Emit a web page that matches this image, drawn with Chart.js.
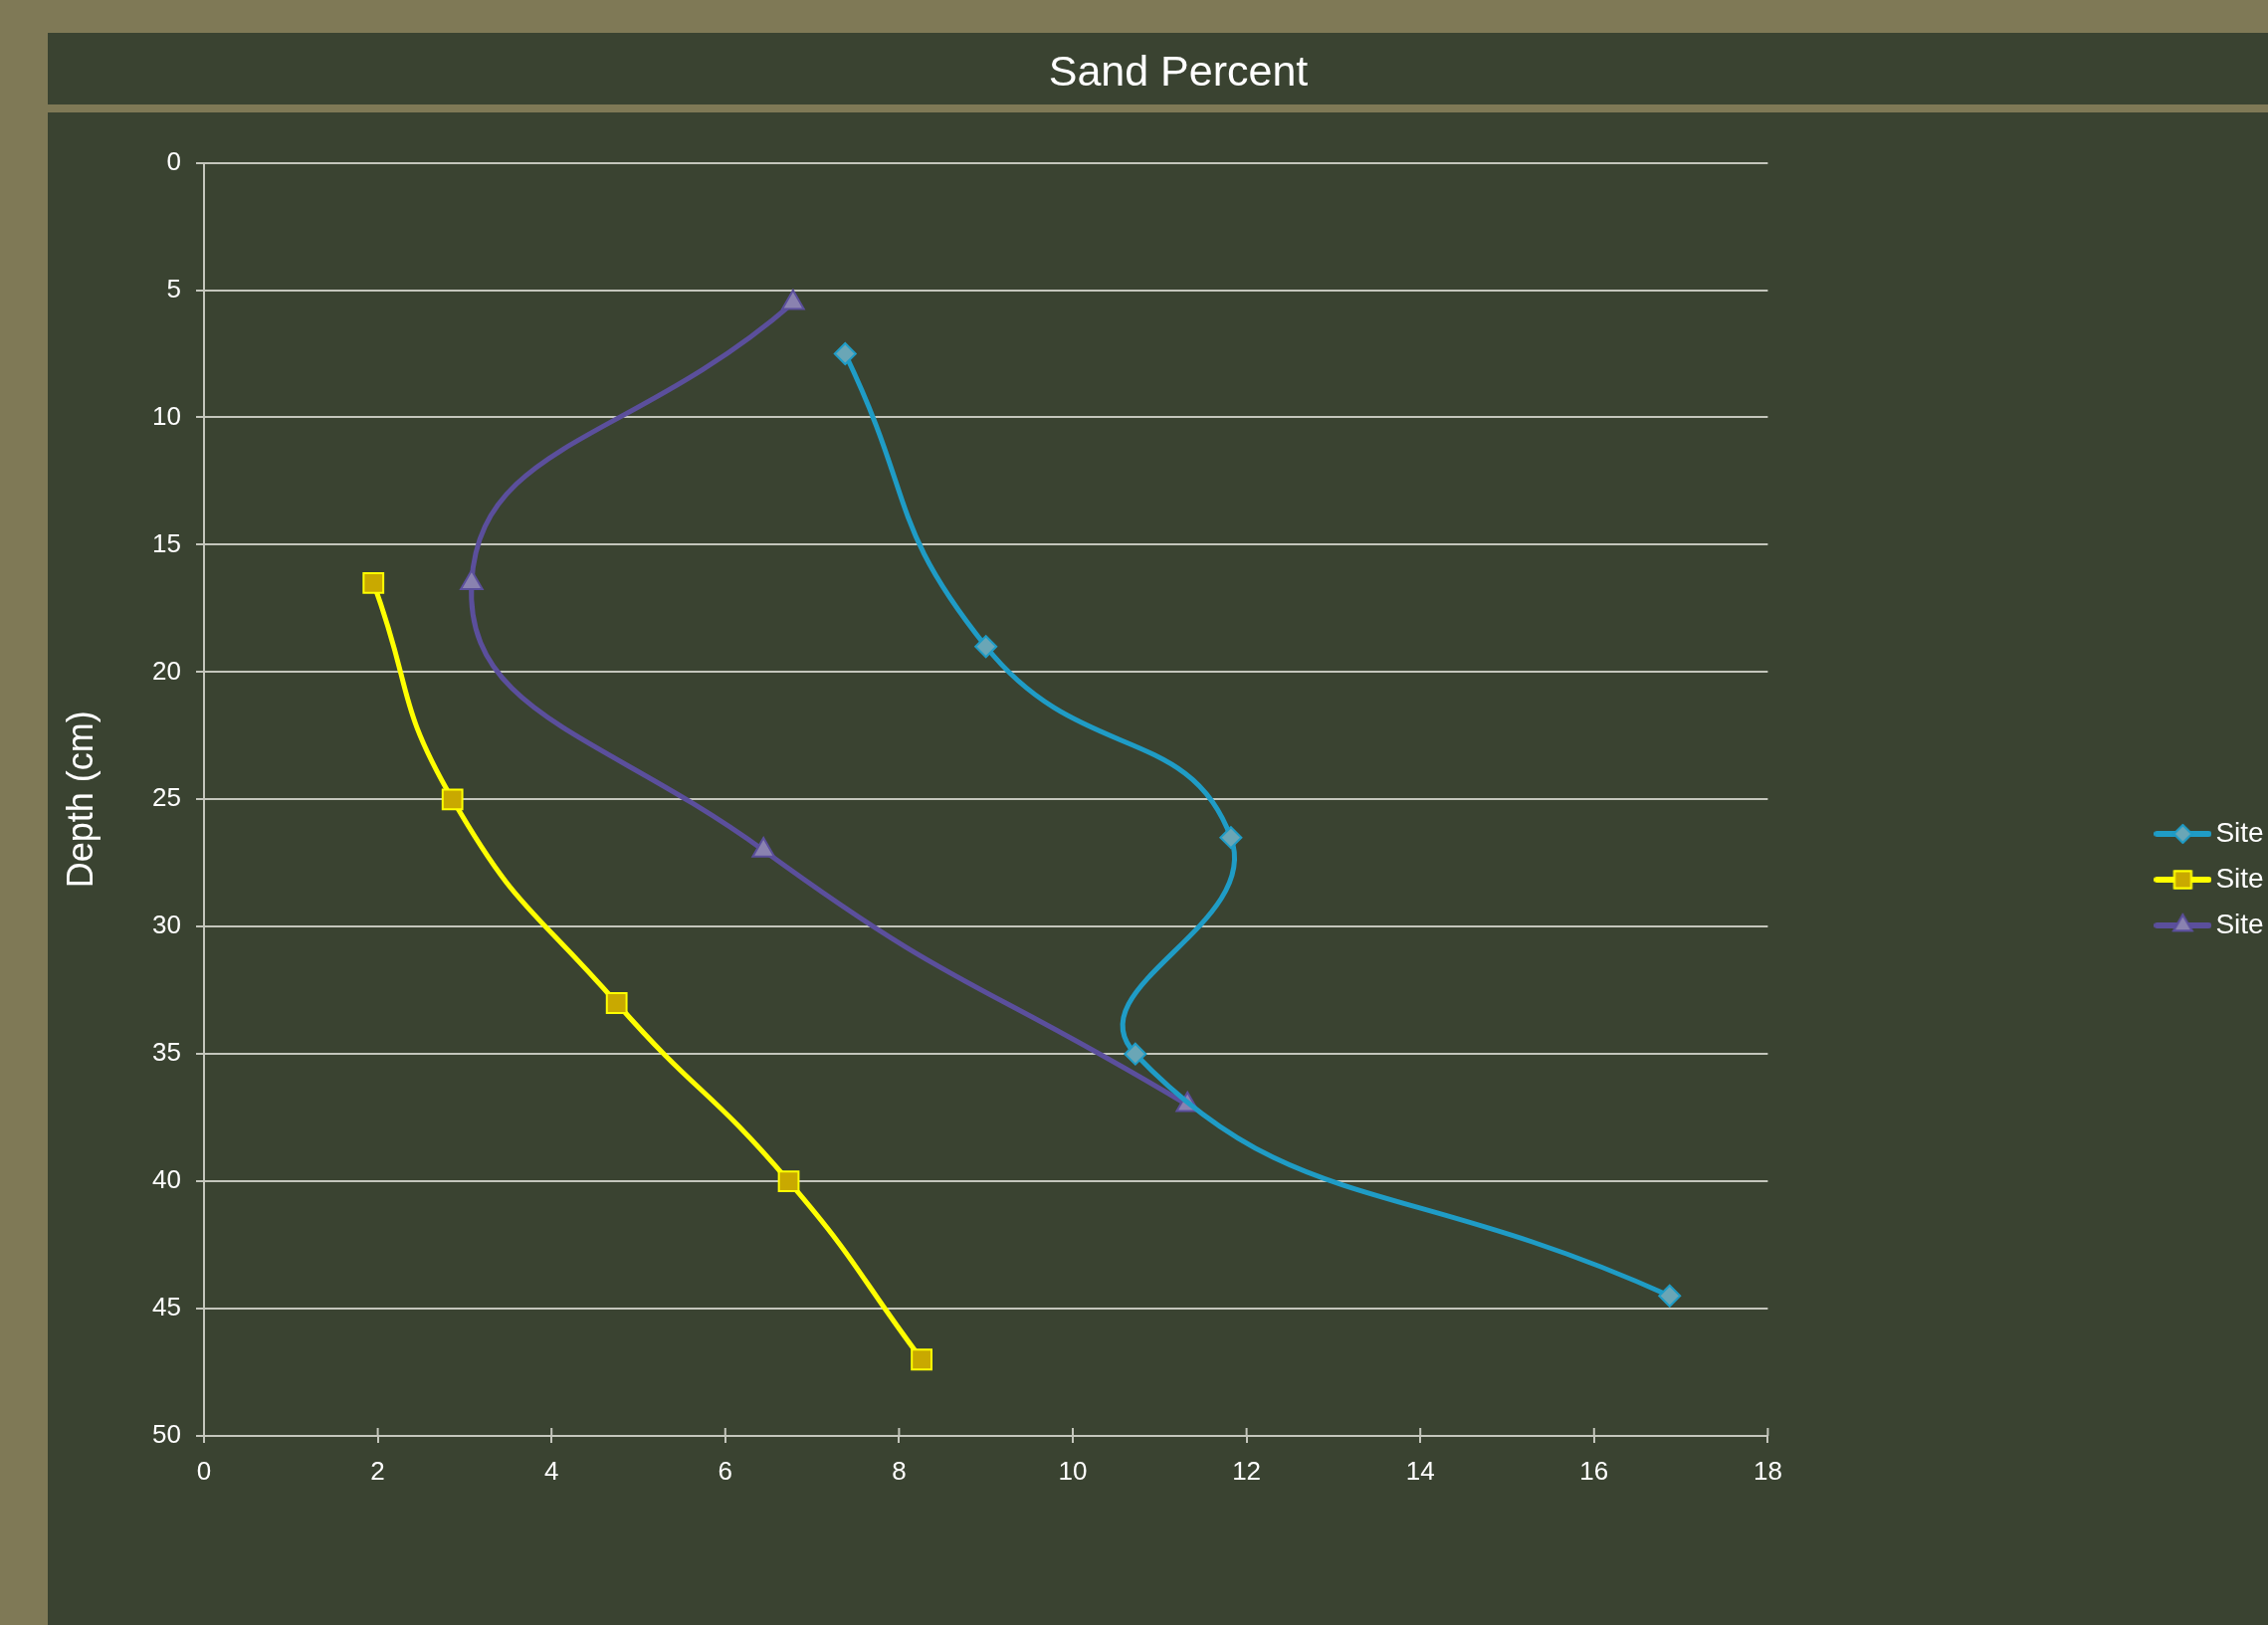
<!DOCTYPE html>
<html>
<head>
<meta charset="utf-8">
<script src="https://cdn.jsdelivr.net/npm/chart.js@4.4.0/dist/chart.umd.min.js"></script>
<style>
  html, body { margin: 0; padding: 0; width: 2279px; height: 1633px; overflow: hidden; background: #7f7956; }
  #wrap { position: absolute; left: 48px; top: 33px; width: 2272px; height: 1702px; }
</style>
</head>
<body>
<div id="wrap"><canvas id="sandChart"></canvas></div>
<script>
// values
var siteNames = ['Site 1', 'Site 2', 'Site 3'];
var site1Sand  = [7.38, 9.0, 11.82, 10.72, 16.87];
var site1Depth = [7.5, 19, 26.5, 35, 44.5];
var site2Sand  = [1.95, 2.86, 4.75, 6.73, 8.26];
var site2Depth = [16.5, 25, 33, 40, 47];
var site3Sand  = [6.78, 3.08, 6.44, 11.32];
var site3Depth = [5.5, 16.5, 27, 37];
var depthTicks = [0, 5, 10, 15, 20, 25, 30, 35, 40, 45, 50];
var sandTicks = [0, 2, 4, 6, 8, 10, 12, 14, 16, 18];

var panel = '#3a4331';
var olive = '#7f7956';
var gridCol = '#c4c6bc';

function pts(xs, ys) {
  return xs.map(function(x, i) { return {x: x, y: ys[i]}; });
}

var styles = [
  {line: '#1f9cc6', fill: '#6aa6b6', shape: 'rectRot', r: 10.5},
  {line: '#ffff00', fill: '#c9a900', shape: 'rect', r: 14},
  {line: '#5b4f9c', fill: '#8a82b0', shape: 'triangle', r: 12.5}
];

// legend swatch: a short line with the marker on it
function swatch(s) {
  var c = document.createElement('canvas');
  c.width = 58; c.height = 26;
  var g = c.getContext('2d');
  g.strokeStyle = s.line; g.lineWidth = 6; g.lineCap = 'round';
  g.beginPath(); g.moveTo(3, 13); g.lineTo(55, 13); g.stroke();
  g.fillStyle = s.fill; g.strokeStyle = s.line; g.lineWidth = 2;
  Chart.helpers.drawPoint(g, {pointStyle: s.shape, radius: s.r * 0.85, rotation: 0, borderWidth: 2}, 29, 13);
  g.fill(); g.stroke();
  return c;
}

var series = [pts(site1Sand, site1Depth), pts(site2Sand, site2Depth), pts(site3Sand, site3Depth)];

var datasets = series.map(function(d, i) {
  var s = styles[i];
  return {
    label: siteNames[i],
    data: d,
    showLine: true,
    tension: 0.5,
    borderColor: s.line,
    borderWidth: 5,
    backgroundColor: s.fill,
    pointStyle: s.shape,
    pointRadius: s.r,
    pointBorderWidth: 2,
    pointBorderColor: s.line,
    pointBackgroundColor: s.fill
  };
});

var bands = {
  id: 'bands',
  beforeDraw: function(chart) {
    var g = chart.ctx;
    g.save();
    g.fillStyle = panel;
    g.fillRect(0, 0, chart.width, chart.height);
    g.fillStyle = olive;
    g.fillRect(0, 72, chart.width, 8);
    g.restore();
  },
  // x tick marks cross the axis line
  afterDraw: function(chart) {
    var xs = chart.scales.x, g = chart.ctx, yb = chart.chartArea.bottom;
    g.save();
    g.strokeStyle = gridCol; g.lineWidth = 2;
    xs.ticks.forEach(function(t) {
      var px = xs.getPixelForValue(t.value);
      g.beginPath(); g.moveTo(px, yb - 8); g.lineTo(px, yb); g.stroke();
    });
    g.restore();
  }
};

var tickFont = {family: 'Liberation Sans', size: 26};

var ctx = document.getElementById('sandChart');
var myChart = new Chart(ctx, {
  type: 'scatter',
  data: {datasets: datasets},
  plugins: [bands],
  options: {
    responsive: true,
    maintainAspectRatio: false,
    animation: false,
    layout: {padding: {left: 12, right: 12, top: 0, bottom: 0}},
    scales: {
      x: {
        type: 'linear', min: 0, max: 18,
        afterBuildTicks: function(s) { s.ticks = sandTicks.map(function(v) { return {value: v}; }); },
        afterFit: function(s) { s.height = 292; },
        grid: {drawOnChartArea: false, drawTicks: true, tickLength: 7, color: gridCol, lineWidth: 2},
        border: {display: true, color: gridCol, width: 2},
        ticks: {color: '#ffffff', font: tickFont, padding: 14}
      },
      y: {
        type: 'linear', reverse: true, min: 0, max: 50,
        afterBuildTicks: function(s) { s.ticks = depthTicks.map(function(v) { return {value: v}; }); },
        afterFit: function(s) { s.width = 145; },
        grid: {color: gridCol, lineWidth: 2, tickLength: 8},
        border: {display: true, color: gridCol, width: 2},
        ticks: {color: '#ffffff', font: tickFont, padding: 15},
        title: {display: true, text: 'Depth (cm)', color: '#ffffff',
                font: {family: 'Liberation Sans', size: 36}, padding: {top: 1, bottom: 0}}
      },
      gap: {
        type: 'linear', position: 'right', min: 0, max: 1,
        afterFit: function(s) { s.width = 380; },
        grid: {display: false}, border: {display: false}, ticks: {display: false}
      }
    },
    plugins: {
      title: {
        display: true, text: 'Sand Percent', color: '#ffffff',
        font: {family: 'Liberation Sans', size: 43, weight: 'normal'},
        padding: {top: 15, bottom: 64}
      },
      legend: {
        position: 'right',
        labels: {
          color: '#ffffff',
          font: {family: 'Liberation Sans', size: 28},
          usePointStyle: true,
          pointStyleWidth: 38,
          padding: 18,
          generateLabels: function(chart) {
            var items = Chart.defaults.plugins.legend.labels.generateLabels(chart);
            items.forEach(function(it, i) { it.pointStyle = swatch(styles[i]); });
            return items;
          }
        }
      },
      tooltip: {enabled: false}
    }
  }
});
</script>
</body>
</html>
